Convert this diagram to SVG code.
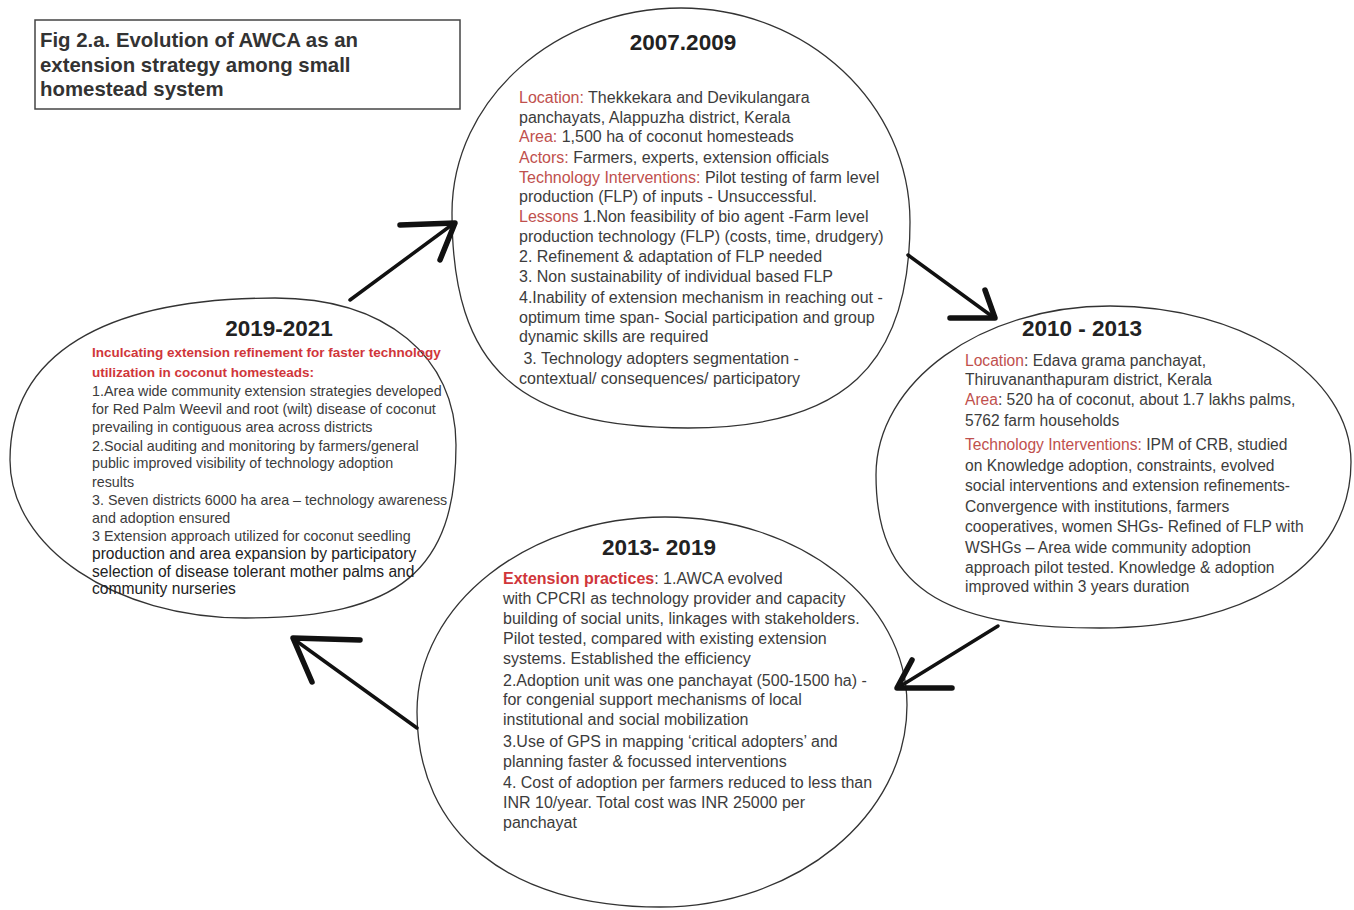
<svg xmlns="http://www.w3.org/2000/svg" width="1354" height="910" viewBox="0 0 1354 910">
<style>
.ell{fill:none;stroke:#333;stroke-width:1.3}
.yr{font-family:"Liberation Sans",Arial,sans-serif;font-weight:bold;font-size:22.5px;fill:#222;text-anchor:middle}
.t{font-family:"Liberation Sans",Arial,sans-serif;fill:#3c3c3c}
.r{fill:#c0504d}
.rb{fill:#d0363a;font-weight:bold}
.shaft{stroke:#111;stroke-width:3.5;fill:none;stroke-linecap:round}
.head{stroke:#111;stroke-width:5.5;fill:none;stroke-linecap:round;stroke-linejoin:round}
.ttl{font-family:"Liberation Sans",Arial,sans-serif;font-weight:bold;font-size:20.4px;fill:#333}
</style>
<rect width="1354" height="910" fill="#fff"/>
<g id="title">
<rect x="35" y="20" width="425" height="89" fill="#fff" stroke="#444" stroke-width="1.5"/>
<text class="ttl" x="40" y="47">Fig 2.a. Evolution of AWCA as an</text>
<text class="ttl" x="40" y="72">extension strategy among small</text>
<text class="ttl" x="40" y="96">homestead system</text>
</g>
<g id="node-2007-2009">
<path class="ell" d="M452,213 C452,100 555,8 681,8 C807,8 910,104 910,222 C910,366 843,428 688,428 C518,428 452,368 452,213 Z"/>
<text class="yr" x="683" y="50">2007.2009</text>
<g class="t" font-size="16">
<text x="519" y="103"><tspan class="r">Location:</tspan> Thekkekara and Devikulangara</text>
<text x="519" y="123">panchayats, Alappuzha district, Kerala</text>
<text x="519" y="142"><tspan class="r">Area:</tspan> 1,500 ha of coconut homesteads</text>
<text x="519" y="163"><tspan class="r">Actors:</tspan> Farmers, experts, extension officials</text>
<text x="519" y="183"><tspan class="r">Technology Interventions:</tspan> Pilot testing of farm level</text>
<text x="519" y="202">production (FLP) of inputs - Unsuccessful.</text>
<text x="519" y="222"><tspan class="r">Lessons</tspan> 1.Non feasibility of bio agent -Farm level</text>
<text x="519" y="242">production technology (FLP) (costs, time, drudgery)</text>
<text x="519" y="262">2. Refinement &amp; adaptation of FLP needed</text>
<text x="519" y="282">3. Non sustainability of individual based FLP</text>
<text x="519" y="303">4.Inability of extension mechanism in reaching out -</text>
<text x="519" y="323">optimum time span- Social participation and group</text>
<text x="519" y="342">dynamic skills are required</text>
<text x="519" y="364" xml:space="preserve"> 3. Technology adopters segmentation -</text>
<text x="519" y="384">contextual/ consequences/ participatory</text>
</g>
</g>
<g id="node-2010-2013">
<path class="ell" d="M876,475 C876,382 981,306 1110,306 C1243,306 1351,376 1351,462 C1351,562 1251,628 1100,628 C939,628 876,585 876,475 Z"/>
<text class="yr" x="1082" y="336">2010 - 2013</text>
<g class="t" font-size="15.6">
<text x="965" y="366"><tspan class="r">Location</tspan>: Edava grama panchayat,</text>
<text x="965" y="385">Thiruvananthapuram district, Kerala</text>
<text x="965" y="405"><tspan class="r">Area</tspan>: 520 ha of coconut, about 1.7 lakhs palms,</text>
<text x="965" y="426">5762 farm households</text>
<text x="965" y="450"><tspan class="r">Technology Interventions:</tspan> IPM of CRB, studied</text>
<text x="965" y="471">on Knowledge adoption, constraints, evolved</text>
<text x="965" y="491">social interventions and extension refinements-</text>
<text x="965" y="512">Convergence with institutions, farmers</text>
<text x="965" y="532">cooperatives, women SHGs- Refined of FLP with</text>
<text x="965" y="553">WSHGs – Area wide community adoption</text>
<text x="965" y="573">approach pilot tested. Knowledge &amp; adoption</text>
<text x="965" y="592">improved within 3 years duration</text>
</g>
</g>
<g id="node-2013-2019">
<path class="ell" d="M417,712 C417,604 528,517 665,517 C799,517 907,601 907,705 C907,816 796,907 660,907 C509,907 417,833 417,712 Z"/>
<text class="yr" x="659" y="555">2013- 2019</text>
<g class="t" font-size="16">
<text x="503" y="584"><tspan class="rb">Extension practices</tspan>: 1.AWCA evolved</text>
<text x="503" y="604">with CPCRI as technology provider and capacity</text>
<text x="503" y="624">building of social units, linkages with stakeholders.</text>
<text x="503" y="644">Pilot tested, compared with existing extension</text>
<text x="503" y="664">systems. Established the efficiency</text>
<text x="503" y="686">2.Adoption unit was one panchayat (500-1500 ha) -</text>
<text x="503" y="705">for congenial support mechanisms of local</text>
<text x="503" y="725">institutional and social mobilization</text>
<text x="503" y="747">3.Use of GPS in mapping ‘critical adopters’ and</text>
<text x="503" y="767">planning faster &amp; focussed interventions</text>
<text x="503" y="788">4. Cost of adoption per farmers reduced to less than</text>
<text x="503" y="808">INR 10/year. Total cost was INR 25000 per</text>
<text x="503" y="828">panchayat</text>
</g>
</g>
<g id="node-2019-2021">
<path class="ell" d="M10,460 C10,355 103,298 275,298 C386,298 456,357 456,445 C456,570 400,618 245,618 C115,618 10,547 10,460 Z"/>
<text class="yr" x="279" y="336">2019-2021</text>
<g class="t" font-size="14.3">
<text x="92" y="357" class="rb" font-size="13.5">Inculcating extension refinement for faster technology</text>
<text x="92" y="377" class="rb" font-size="13.5">utilization in coconut homesteads:</text>
<text x="92" y="396">1.Area wide community extension strategies developed</text>
<text x="92" y="414">for Red Palm Weevil and root (wilt) disease of coconut</text>
<text x="92" y="432">prevailing in contiguous area across districts</text>
<text x="92" y="451">2.Social auditing and monitoring by farmers/general</text>
<text x="92" y="468">public improved visibility of technology adoption</text>
<text x="92" y="487">results</text>
<text x="92" y="505">3. Seven districts 6000 ha area – technology awareness</text>
<text x="92" y="523">and adoption ensured</text>
<text x="92" y="541">3 Extension approach utilized for coconut seedling</text>
<text x="92" y="559" font-size="15.6" fill="#222">production and area expansion by participatory</text>
<text x="92" y="577" font-size="15.6" fill="#222">selection of disease tolerant mother palms and</text>
<text x="92" y="594" font-size="15.6" fill="#222">community nurseries</text>
</g>
</g>
<g id="connectors">
<line class="shaft" x1="350" y1="300" x2="453" y2="224"/>
<polyline class="head" points="400,225 455,223 440,260"/>
<line class="shaft" x1="908" y1="255" x2="993" y2="317"/>
<polyline class="head" points="950,318 995,318 985,290"/>
<line class="shaft" x1="998" y1="626" x2="899" y2="687"/>
<polyline class="head" points="952,688 897,688 912,660"/>
<line class="shaft" x1="417" y1="728" x2="295" y2="640"/>
<polyline class="head" points="360,640 293,638 312,682"/>
</g>
</svg>
